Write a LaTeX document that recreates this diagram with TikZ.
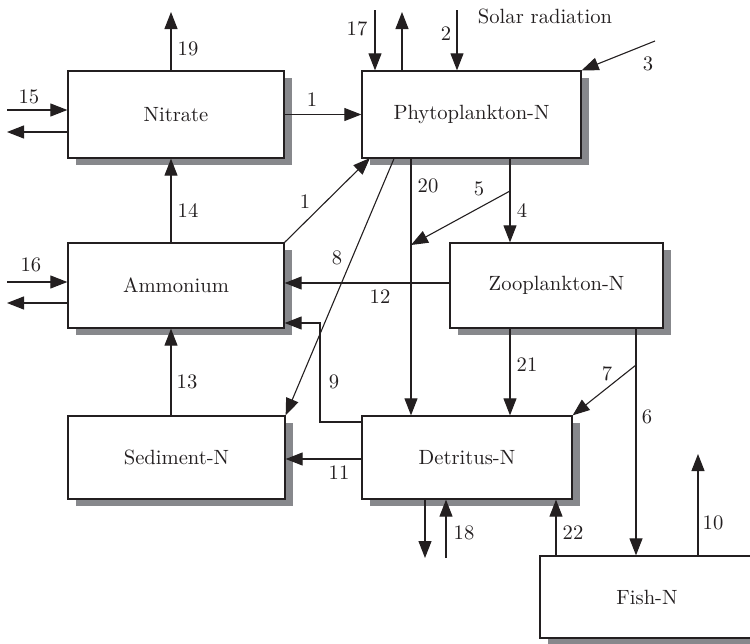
\documentclass[tikz,border=0pt]{standalone}
\usetikzlibrary{arrows.meta,shadows,calc}
\definecolor{ink}{RGB}{35,31,32}
\definecolor{shgray}{RGB}{135,136,140}
\begin{document}
\begin{tikzpicture}[x=0.5pt,y=-0.5pt,
  every node/.style={font=\fontsize{10.3}{12}\selectfont, text=ink},
  box/.style={draw=ink, line width=0.65pt, fill=white, inner sep=0pt,
     drop shadow={shadow xshift=4pt, shadow yshift=-3.5pt, fill=shgray, opacity=1}},
  arr/.style={draw=ink, line width=0.55pt, -{Triangle[length=8.5pt,width=6.5pt]}},
  ln/.style={draw=ink, line width=0.55pt},
  lab/.style={inner sep=0pt}]
\useasboundingbox (0,0) rectangle (750,643);
\begin{scope}
\clip (0,0) rectangle (750,643);
\node[box, minimum width=108pt, minimum height=43.5pt] (nit) at (176,114.5) {Nitrate};
\node[box, minimum width=109.5pt, minimum height=43.5pt] (phy) at (471.5,114.5) {Phytoplankton-N};
\node[box, minimum width=108pt, minimum height=42.5pt] (amm) at (176,285.5) {Ammonium};
\node[box, minimum width=106.5pt, minimum height=42.5pt] (zoo) at (556.5,285.5) {Zooplankton-N};
\node[box, minimum width=108.5pt, minimum height=41.5pt] (sed) at (176.5,457.5) {Sediment-N};
\node[box, minimum width=105pt, minimum height=41.5pt] (det) at (467,457.5) {Detritus-N};
\node[box, minimum width=107pt, minimum height=41pt] (fish) at (647,597) {Fish-N};
\end{scope}
% helper coordinates
\coordinate (c13) at (171,0);
\coordinate (c4) at (510,0);
\coordinate (c20) at (411,0);
\coordinate (c8) at (394,0);
\coordinate (c6) at (636,0);
\coordinate (c22) at (556,0);
\coordinate (c12) at (0,283);
\coordinate (c11) at (0,459);
\coordinate (c9a) at (320,422);
\coordinate (c9b) at (320,323);
\coordinate (e19) at (171,12);
\coordinate (s15) at (7,110);
\coordinate (e15) at (7,132);
\coordinate (s16) at (7,282);
\coordinate (e16) at (7,303);
\coordinate (s17) at (375,10);
\coordinate (eup) at (402,12);
\coordinate (s2) at (457,10);
\coordinate (s3) at (655,41);
\coordinate (t1) at (370,158);
\coordinate (b5) at (510,191);
\coordinate (t5) at (411,245);
\coordinate (b7) at (636,365);
\coordinate (e18) at (425,558);
\coordinate (s18) at (446,558);
\coordinate (e10) at (698,454);
% connectors
\draw[arr] (nit.north -| e19) -- (e19);
\draw[arr] (s15) -- (nit.west |- s15);
\draw[arr] (nit.west |- e15) -- (e15);
\draw[arr] (s16) -- (amm.west |- s16);
\draw[arr] (amm.west |- e16) -- (e16);
\draw[arr] (nit.east) -- (phy.west);
\draw[arr] (amm.north -| c13) -- (nit.south -| c13);
\draw[arr] (sed.north -| c13) -- (amm.south -| c13);
\draw[arr] (amm.north east) -- (t1);
\draw[arr] (s17) -- (phy.north -| s17);
\draw[arr] (phy.north -| eup) -- (eup);
\draw[arr] (s2) -- (phy.north -| s2);
\draw[arr] (s3) -- (phy.north east);
\draw[arr] (phy.south -| c8) -- (sed.north east);
\draw[arr] (phy.south -| c20) -- (det.north -| c20);
\draw[arr] (phy.south -| c4) -- (zoo.north -| c4);
\draw[arr] (b5) -- (t5);
\draw[arr] (zoo.west |- c12) -- (amm.east |- c12);
\draw[arr] (zoo.south -| c4) -- (det.north -| c4);
\draw[arr] (zoo.south -| c6) -- (fish.north -| c6);
\draw[arr] (b7) -- (det.north east);
\draw[arr] (det.west |- c9a) -- (c9a) -- (c9b) -- (amm.east |- c9b);
\draw[arr] (det.west |- c11) -- (sed.east |- c11);
\draw[arr] (det.south -| e18) -- (e18);
\draw[arr] (s18) -- (det.south -| s18);
\draw[arr] (fish.north -| c22) -- (det.south -| c22);
\draw[arr] (fish.north -| e10) -- (e10);
% labels
\node[lab] (l19) at (188,49) {19};
\node[lab] (l15) at (29,97) {15};
\node[lab] (l1a) at (312,100) {1};
\node[lab] (l14) at (188,211) {14};
\node[lab] (l16) at (31,265) {16};
\node[lab] (l1b) at (305,202) {1};
\node[lab] (l8) at (337,258) {8};
\node[lab] (l12) at (380,297) {12};
\node[lab] (l17) at (357,29) {17};
\node[lab] (l2) at (446,34) {2};
\node[lab] (lsol) at (545,16) {Solar radiation};
\node[lab] (l3) at (648,64) {3};
\node[lab] (l20) at (428,186) {20};
\node[lab] (l5) at (479,189) {5};
\node[lab] (l4) at (522,211) {4};
\node[lab] (l13) at (187,382) {13};
\node[lab] (l21) at (527,365) {21};
\node[lab] (l7) at (607,374) {7};
\node[lab] (l6) at (647,417) {6};
\node[lab] (l9) at (334,382) {9};
\node[lab] (l11) at (339,473) {11};
\node[lab] (l18) at (464,533) {18};
\node[lab] (l22) at (573,533) {22};
\node[lab] (l10) at (713,523) {10};
\end{tikzpicture}
\end{document}
